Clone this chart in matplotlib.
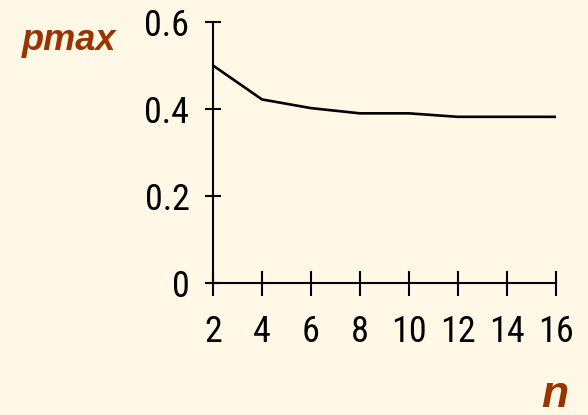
import matplotlib
matplotlib.use('Agg')
import matplotlib.pyplot as plt

# data
n_values = [2, 4, 6, 8, 10, 12, 14, 16]
pmax_values = [0.50, 0.422, 0.402, 0.39, 0.39, 0.382, 0.382, 0.382]
x_ticks = [2, 4, 6, 8, 10, 12, 14, 16]
y_ticks = [0, 0.2, 0.4, 0.6]
y_tick_labels = ['0', '0.2', '0.4', '0.6']

bg = '#FFF8E6'
brown = '#993300'

plt.rcParams['font.family'] = ['Roboto Condensed', 'Open Sans Condensed', 'Archivo Narrow', 'DejaVu Sans']

fig = plt.figure(figsize=(5.88, 4.15), dpi=100, facecolor=bg)
ax = fig.add_axes([213 / 588, 1 - 283 / 415, (556 - 213) / 588, (283 - 22) / 415])
ax.set_facecolor(bg)

ax.plot(n_values, pmax_values, color='black', linewidth=1.9, solid_joinstyle='miter')

ax.set_xlim(2, 16)
ax.set_ylim(0, 0.6)
ax.set_xticks(x_ticks)
ax.set_yticks(y_ticks)
ax.set_yticklabels(y_tick_labels)

for side in ['top', 'right']:
    ax.spines[side].set_visible(False)
for side in ['left', 'bottom']:
    ax.spines[side].set_linewidth(1.5)

ax.tick_params(axis='x', direction='inout', length=18, width=1.5, pad=13, labelsize=26)
ax.tick_params(axis='y', direction='inout', length=12, width=1.5, pad=11, labelsize=26)

# axis titles in brown italic
fig.text(22 / 588, 1 - 40 / 415, 'pmax', color=brown, fontsize=26, fontweight='bold',
         style='italic', family=['Liberation Sans', 'DejaVu Sans'], va='center', ha='left')
fig.text(555 / 588, 1 - 395 / 415, 'n', color=brown, fontsize=32, fontweight='bold',
         style='italic', family=['Liberation Sans', 'DejaVu Sans'], va='center', ha='center')

fig.savefig('out.png', dpi=100, facecolor=bg)
